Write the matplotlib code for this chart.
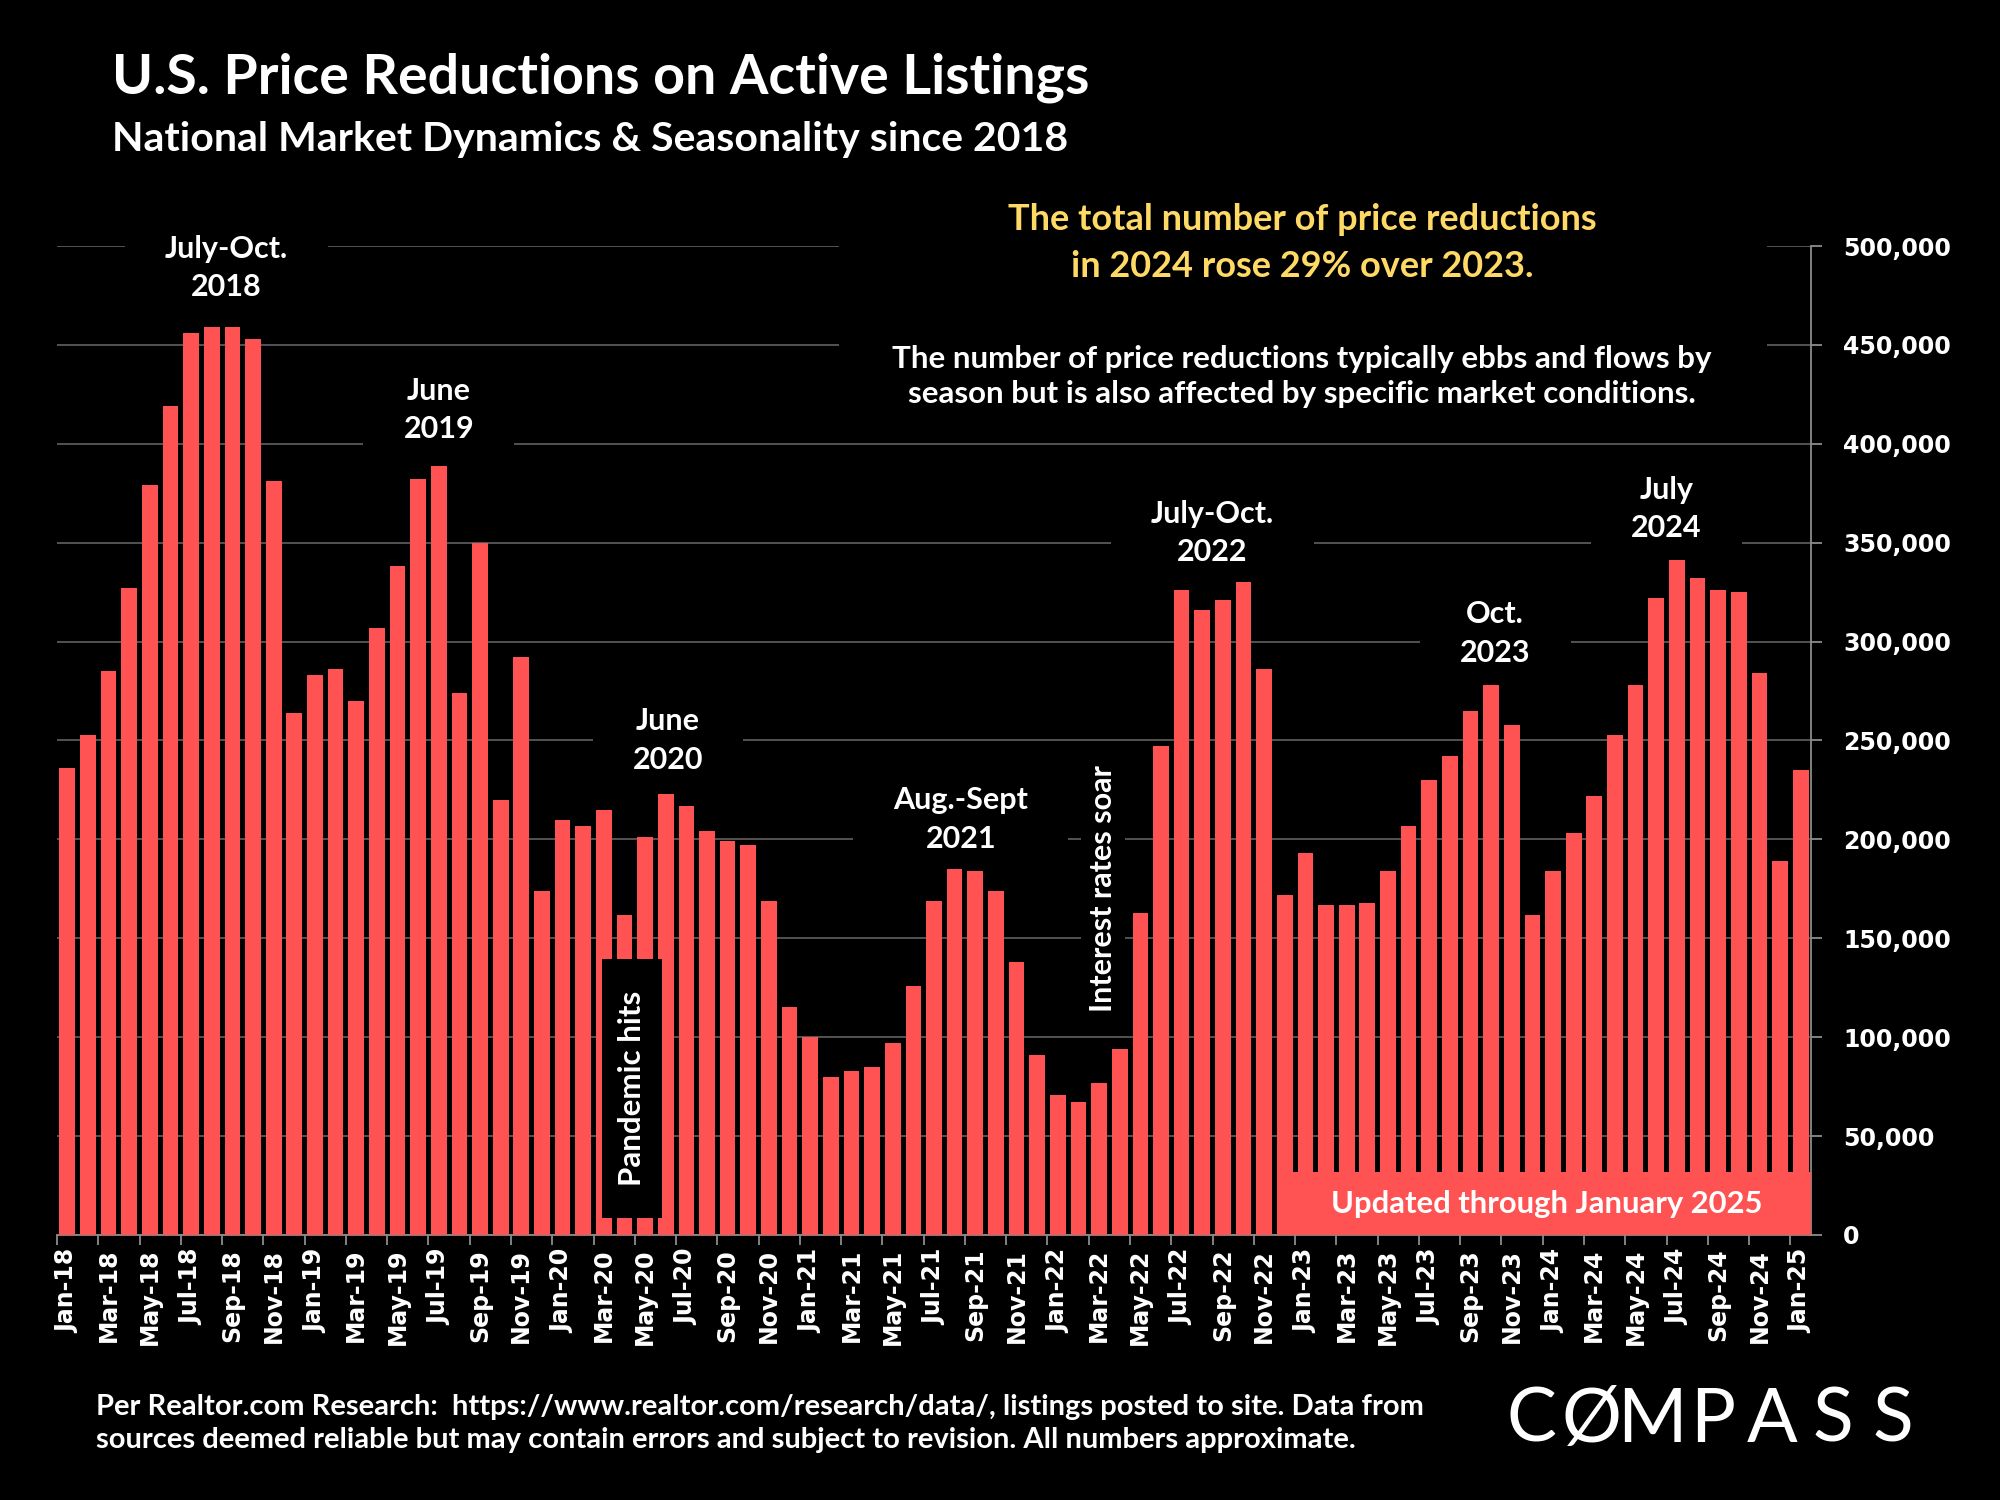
import matplotlib
matplotlib.use('Agg')
import matplotlib.pyplot as plt
from matplotlib.patches import Rectangle
from matplotlib.transforms import IdentityTransform
from matplotlib.ticker import FuncFormatter, FixedLocator

plt.rcParams['font.family'] = ['Lato', 'DejaVu Sans']

# --- data ---
years = ['18', '19', '20', '21', '22', '23', '24', '25']
month_names = ['Jan', 'Feb', 'Mar', 'Apr', 'May', 'Jun',
               'Jul', 'Aug', 'Sep', 'Oct', 'Nov', 'Dec']
months = [f'{m}-{y}' for y in years for m in month_names][:85]

reductions = [
    # 2018
    236000, 253000, 285000, 327000, 379000, 419000, 456000, 459000, 459000, 453000, 381000, 264000,
    # 2019
    283000, 286000, 270000, 307000, 338000, 382000, 389000, 274000, 350000, 220000, 292000, 174000,
    # 2020
    210000, 207000, 215000, 162000, 201000, 223000, 217000, 204000, 199000, 197000, 169000, 115000,
    # 2021
    100000, 80000, 83000, 85000, 97000, 126000, 169000, 185000, 184000, 174000, 138000, 91000,
    # 2022
    71000, 67000, 77000, 94000, 163000, 247000, 326000, 316000, 321000, 330000, 286000, 172000,
    # 2023
    193000, 167000, 167000, 168000, 184000, 207000, 230000, 242000, 265000, 278000, 258000, 162000,
    # 2024
    184000, 203000, 222000, 253000, 278000, 322000, 341000, 332000, 326000, 325000, 284000, 189000,
    # 2025
    235000,
]

peak_labels = ['July-Oct.\n2018', 'June\n2019', 'June\n2020', 'Aug.-Sept\n2021',
               'July-Oct.\n2022', 'Oct.\n2023', 'July\n2024']
peak_x = [7.7, 18.0, 29.1, 43.3, 55.5, 69.2, 77.5]
peak_y = [489000, 417000, 250000, 210000, 355000, 304000, 367000]

BAR = '#FF5252'
GRID = '#595959'
AXIS = '#8c8c8c'
GOLD = '#FFD966'

fig = plt.figure(figsize=(20, 15), dpi=100, facecolor='black')
ax = fig.add_axes([0.0285, 0.1767, 0.877, 0.6593])
ax.set_facecolor('black')

x = list(range(len(reductions)))
ax.bar(x, reductions, width=0.76, color=BAR, zorder=3)

ax.set_xlim(-0.5, len(reductions) - 0.5)
ax.set_ylim(0, 500000)

# grid + spines
ax.yaxis.grid(True, color=GRID, linewidth=1.3, zorder=0)
ax.set_axisbelow(True)
for s in ['left', 'top']:
    ax.spines[s].set_visible(False)
ax.spines['bottom'].set_color(AXIS)
ax.spines['right'].set_color(AXIS)
ax.spines['bottom'].set_linewidth(1.3)
ax.spines['right'].set_linewidth(1.3)

# y axis on the right
ax.yaxis.tick_right()
ax.set_yticks(range(0, 500001, 50000))
ax.yaxis.set_major_formatter(FuncFormatter(lambda v, p: f'{int(v):,}'))
ax.tick_params(axis='y', colors=AXIS, length=8, width=1.3, pad=15)
for lbl in ax.get_yticklabels():
    lbl.set_color('white')
    lbl.set_fontfamily('DejaVu Sans')
    lbl.set_fontweight('bold')
    lbl.set_fontsize(17)

# x axis: labels every other month, tick marks between categories
ax.set_xticks(x[::2])
ax.set_xticklabels(months[::2], rotation=90, color='white',
                   fontfamily='DejaVu Sans', fontweight='bold', fontsize=17)
ax.tick_params(axis='x', which='major', length=0, pad=10)
ax.xaxis.set_minor_locator(FixedLocator([i - 0.5 for i in range(0, len(reductions) + 1, 2)]))
ax.tick_params(axis='x', which='minor', colors=AXIS, length=7, width=1.3)

# peak annotations (black boxes behind them hide the gridlines, like text boxes)
boxed = []
for lbl, px, py in zip(peak_labels, peak_x, peak_y):
    t = ax.text(px, py, lbl, ha='center', va='center', color='white', fontsize=22,
                fontweight='bold', linespacing=1.45, zorder=6)
    boxed.append((t, 40, 8))

# pandemic box
ax.add_patch(Rectangle((25.9, 8600), 2.9, 131000, facecolor='black',
                       edgecolor='none', zorder=5))
ax.text(27.35, 74000, 'Pandemic hits', rotation=90, ha='center', va='center',
        color='white', fontsize=22.5, fontweight='bold', zorder=6)

# interest rates
t = ax.text(50.2, 175000, 'Interest rates soar', rotation=90, ha='center', va='center',
            color='white', fontsize=22, fontweight='bold', zorder=6)
boxed.append((t, 8, 10))

# updated-through banner
ax.add_patch(Rectangle((58.6, 0), len(reductions) - 0.5 - 58.6, 32000,
                       facecolor=BAR, edgecolor='none', zorder=4))
ax.text(71.7, 15700, 'Updated through January 2025', ha='center', va='center',
        color='white', fontsize=22.3, fontweight='bold', zorder=6)

# titles
fig.text(0.056, 0.948, 'U.S. Price Reductions on Active Listings', color='white',
         fontsize=40, fontweight='bold', ha='left', va='center')
fig.text(0.056, 0.907, 'National Market Dynamics & Seasonality since 2018', color='white',
         fontsize=29.5, fontweight='bold', ha='left', va='center')

# commentary, on a black panel that hides the top gridlines
fig.add_artist(Rectangle((0.4195, 0.72), 0.464, 0.15, transform=fig.transFigure,
                         facecolor='black', edgecolor='none', zorder=2))
fig.text(0.651, 0.838, 'The total number of price reductions\nin 2024 rose 29% over 2023.',
         color=GOLD, fontsize=26, fontweight='bold', ha='center', va='center',
         linespacing=1.5, zorder=6)
fig.text(0.651, 0.749, 'The number of price reductions typically ebbs and flows by\n'
         'season but is also affected by specific market conditions.',
         color='white', fontsize=22.5, fontweight='bold', ha='center', va='center',
         linespacing=1.3, zorder=6)

# footer
fig.text(0.048, 0.051, 'Per Realtor.com Research:  https://www.realtor.com/research/data/, '
         'listings posted to site. Data from\nsources deemed reliable but may contain errors '
         'and subject to revision. All numbers approximate.',
         color='white', fontsize=21, fontweight='bold', ha='left', va='center',
         linespacing=1.35)

# logo
logo = 'CØMPASS'
for i, ch in enumerate(logo):
    fig.text(0.7655 + i * 0.0302, 0.053, ch, color='white', fontsize=54,
             ha='center', va='center')

# black boxes behind annotation texts (sized from the rendered text)
fig.canvas.draw()
renderer = fig.canvas.get_renderer()
for t, padx, pady in boxed:
    bb = t.get_window_extent(renderer)
    ax.add_patch(Rectangle((bb.x0 - padx, bb.y0 - pady), bb.width + 2 * padx,
                           bb.height + 2 * pady, transform=IdentityTransform(),
                           facecolor='black', edgecolor='none', zorder=2,
                           clip_on=False))

fig.savefig('out.png', dpi=100, facecolor='black')
